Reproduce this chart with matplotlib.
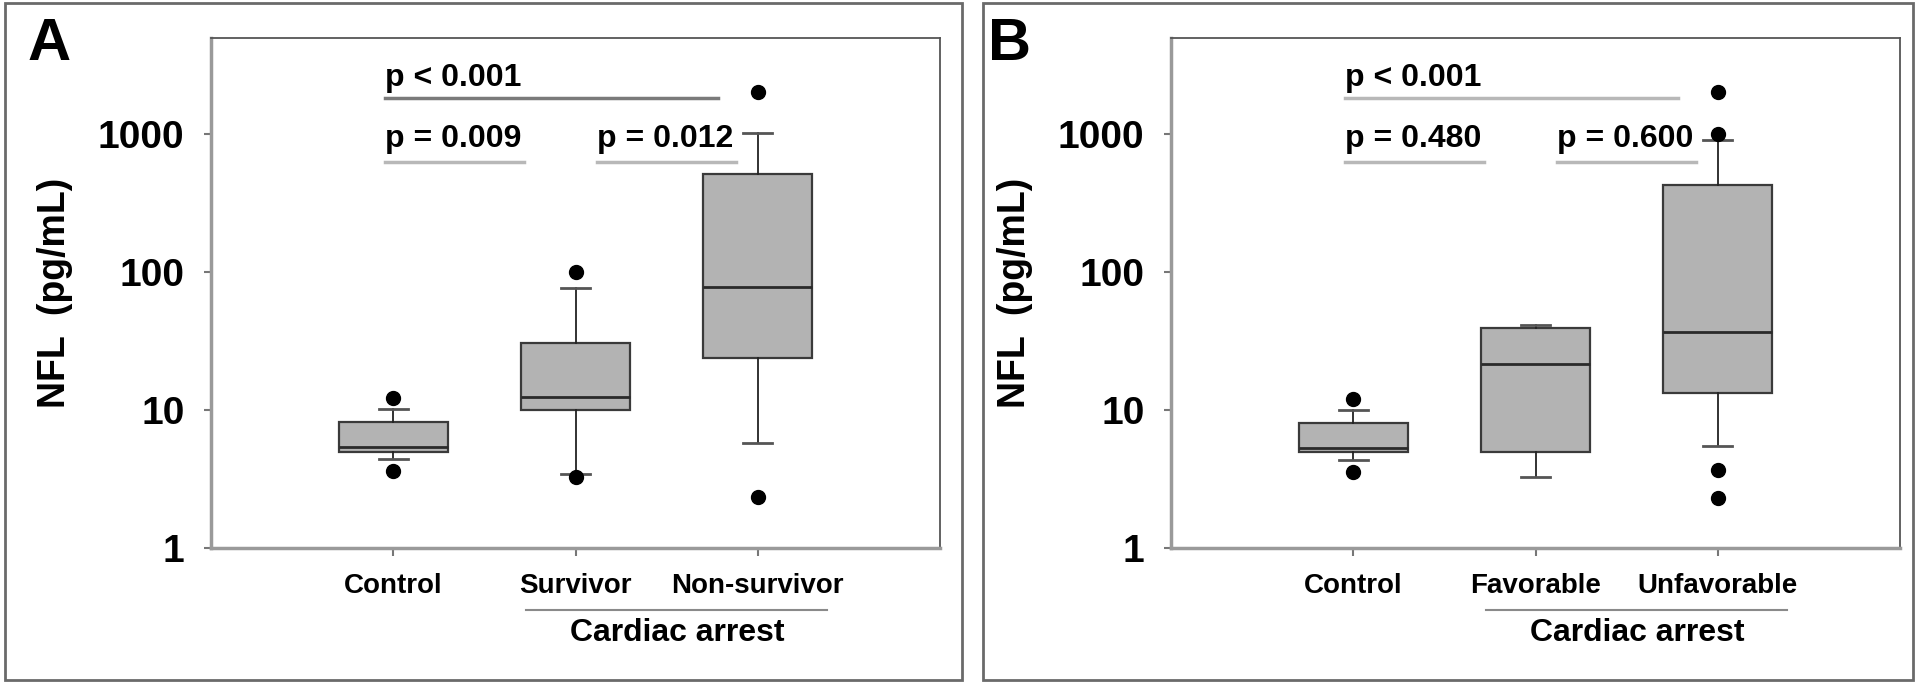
import numpy as np
import matplotlib
matplotlib.use("Agg")
import matplotlib.pyplot as plt
import matplotlib.transforms as mtransforms
from matplotlib.patches import Rectangle

plt.rcParams['font.family'] = ['Liberation Sans', 'DejaVu Sans']
plt.rcParams['font.weight'] = 'bold'

# panel A: outcome survivor / non-survivor
groups_a = ["Control", "Survivor", "Non-survivor"]
med_a = [5.4, 12.4, 78]
q1_a = [4.95, 9.95, 24]
q3_a = [8.2, 30.7, 520]
whislo_a = [4.4, 3.45, 5.8]
whishi_a = [10.2, 77, 1020]
fliers_a = [[3.6, 12.2], [3.3, 101], [2.35, 2030]]
pvals_a = ["p < 0.001", "p = 0.009", "p = 0.012"]

# panel B: favorable / unfavorable neuro outcome
groups_b = ["Control", "Favorable", "Unfavorable"]
med_b = [5.3, 21.5, 36.7]
q1_b = [4.95, 4.98, 13.2]
q3_b = [8.1, 39.4, 430]
whislo_b = [4.35, 3.25, 5.5]
whishi_b = [10.1, 41.4, 915]
fliers_b = [[3.55, 12.0], [], [2.3, 3.65, 1010, 2020]]
pvals_b = ["p < 0.001", "p = 0.480", "p = 0.600"]

yticks = [1, 10, 100, 1000]

W, H = 1920, 684
fig = plt.figure(figsize=(W / 100, H / 100), dpi=100)


def panel(x0, frame, letter, groups, med, q1, q3, wlo, whi, fl, pv, top_col):
    # outer frame (pixel extents)
    fx0, fx1 = frame
    fig.add_artist(Rectangle((fx0 / W, 4 / H), (fx1 - fx0) / W, (681 - 4) / H,
                             transform=fig.transFigure,
                             fill=False, ec='#6a6a6a', lw=2))
    ax = fig.add_axes([(x0 + 211) / W, 1 - 548 / H, 729 / W, 510 / H])
    stats = []
    for i in range(3):
        stats.append(dict(med=med[i], q1=q1[i], q3=q3[i], whislo=wlo[i],
                          whishi=whi[i], fliers=fl[i], label=groups[i]))
    ax.bxp(stats, positions=[1, 2, 3], widths=0.6, patch_artist=True,
           boxprops=dict(facecolor='#b3b3b3', edgecolor='#3a3a3a', lw=1.6),
           medianprops=dict(color='#2a2a2a', lw=2),
           whiskerprops=dict(color='#222222', lw=1.3),
           capprops=dict(color='#555555', lw=2),
           capwidths=0.16,
           flierprops=dict(marker='o', markerfacecolor='black',
                           markeredgecolor='black', markersize=10))
    ax.set_yscale('log')
    ax.set_ylim(1, 5000)
    ax.set_xlim(0, 4)
    ax.set_yticks(yticks)
    ax.set_yticklabels([str(t) for t in yticks], fontsize=28, fontweight='bold')
    ax.yaxis.set_minor_locator(matplotlib.ticker.NullLocator())
    ax.set_xticks([1, 2, 3])
    ax.set_xticklabels([])
    ax.tick_params(axis='y', length=5, width=1.5, color='#777777', pad=14)
    ax.tick_params(axis='x', length=6, width=1.5, color='#777777')
    for s in ['left', 'bottom']:
        ax.spines[s].set_color('#9a9a9a')
        ax.spines[s].set_linewidth(2.5)
    for s in ['top', 'right']:
        ax.spines[s].set_color('#555555')
        ax.spines[s].set_linewidth(1.3)

    tr = mtransforms.blended_transform_factory(ax.transData, ax.transAxes)
    for i, g in enumerate(groups):
        ax.text(i + 1, -0.0745, g, transform=tr, ha='center', va='center',
                fontsize=20, fontweight='bold')
    ax.plot([1.73, 3.38], [-0.1216, -0.1216], transform=tr, color='#8a8a8a',
            lw=1.5, clip_on=False)
    ax.text(2.56, -0.1667, "Cardiac arrest", transform=tr, ha='center',
            va='center', fontsize=23, fontweight='bold')

    # significance bars
    ax.plot([0.955, 2.78], [1832, 1832], color=top_col, lw=2.5)
    ax.plot([0.955, 1.717], [631, 631], color='#b8b8b8', lw=2.5)
    ax.plot([2.118, 2.88], [631, 631], color='#b8b8b8', lw=2.5)
    ax.text(0.955, 2235, pv[0], ha='left', va='baseline', fontsize=23, fontweight='bold')
    ax.text(0.955, 807, pv[1], ha='left', va='baseline', fontsize=23, fontweight='bold')
    ax.text(2.118, 807, pv[2], ha='left', va='baseline', fontsize=23, fontweight='bold')

    fig.text((x0 + 55) / W, 1 - 293 / H, "NFL  (pg/mL)", rotation=90,
             ha='center', va='center', fontsize=27, fontweight='bold')
    fig.text((x0 + 49) / W, 1 - 44 / H, letter, ha='center', va='center',
             fontsize=43, fontweight='bold')
    return ax


panel(0, (5, 962), "A", groups_a, med_a, q1_a, q3_a, whislo_a, whishi_a,
      fliers_a, pvals_a, '#7a7a7a')
panel(960, (983, 1913), "B", groups_b, med_b, q1_b, q3_b, whislo_b, whishi_b,
      fliers_b, pvals_b, '#b8b8b8')

fig.savefig("out.png", dpi=100, facecolor='white')
